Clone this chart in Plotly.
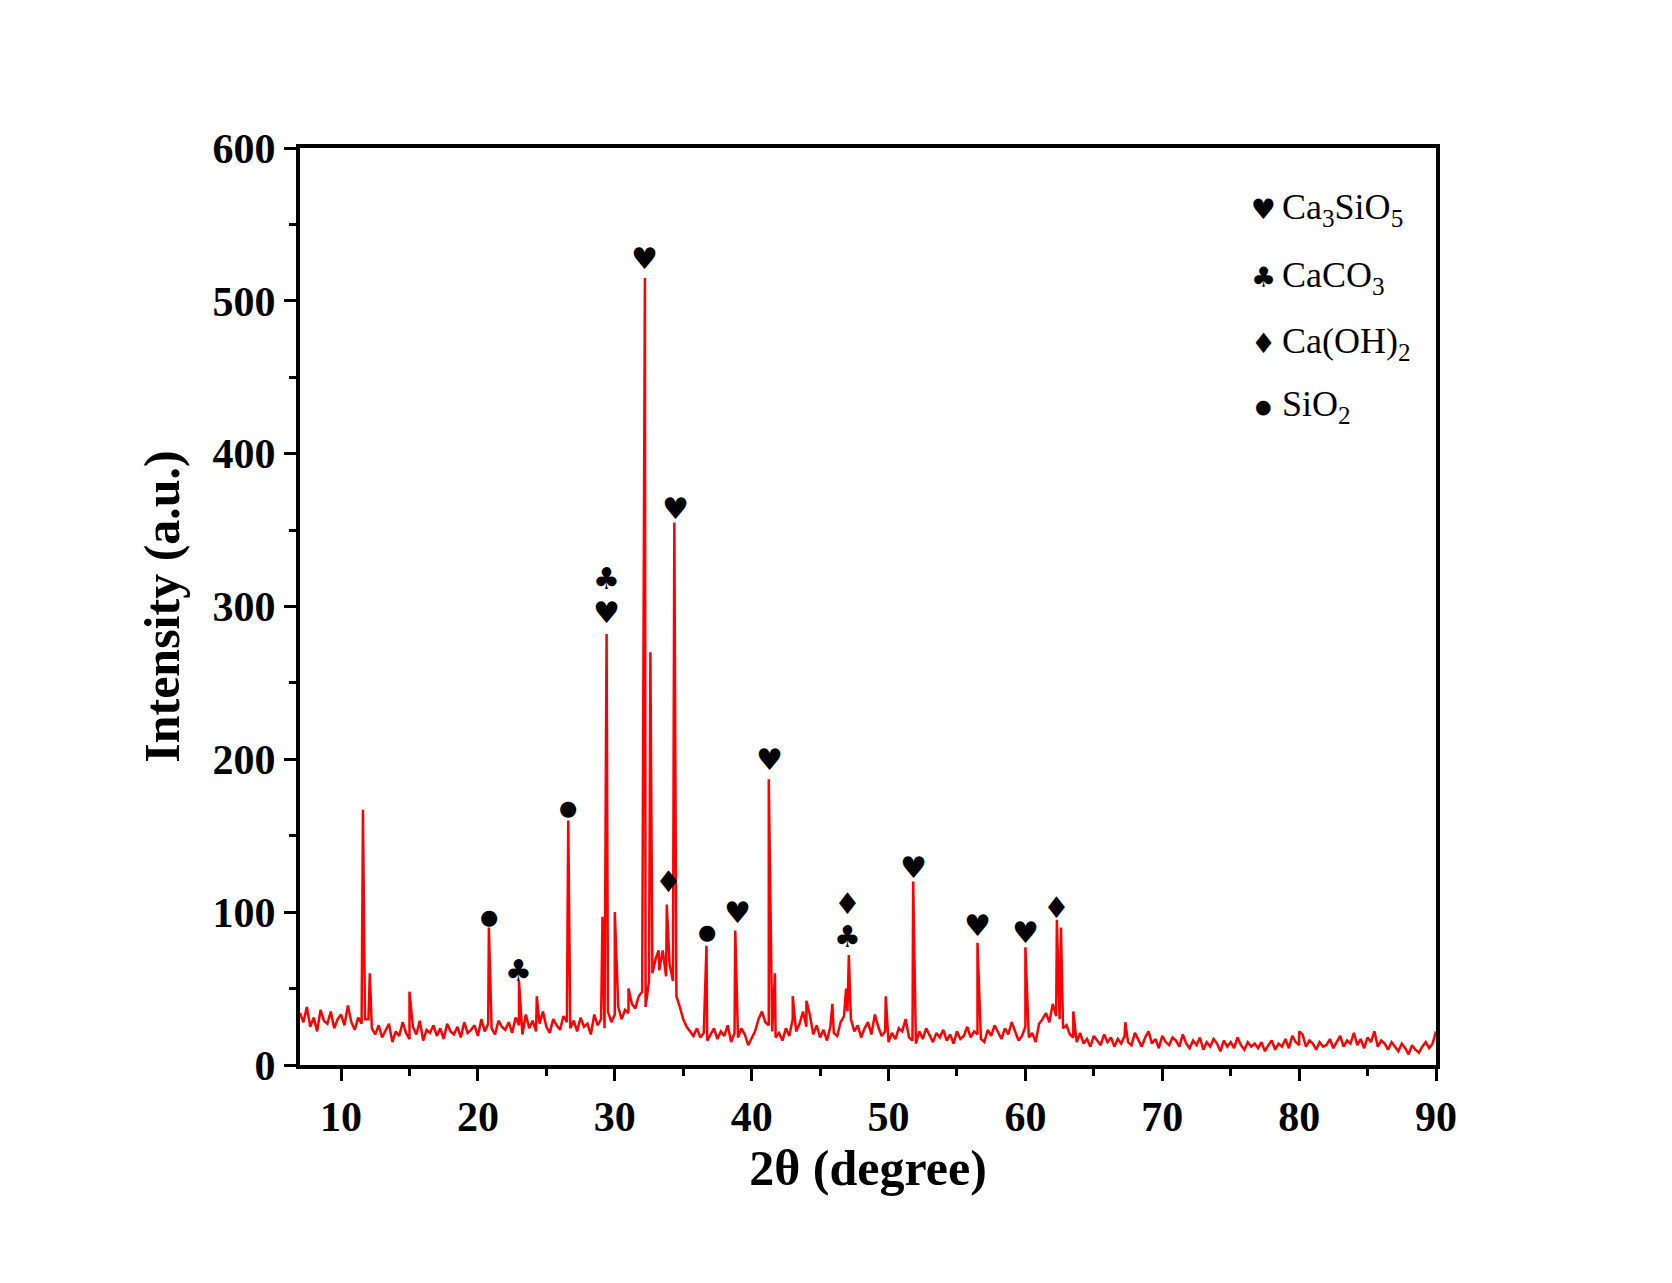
import plotly.graph_objects as go

# baseline intensity sampled every 0.25 deg from 7.0 to 90.0
base_start = 7.0
base_step = 0.25
base_counts = [
    34, 28, 38, 25, 31, 22, 36, 29, 27, 35, 24, 30, 33, 26, 39, 28, 23, 31, 27, 30,
    30, 24, 20, 26, 18, 23, 27, 15, 22, 19, 28, 21, 17, 25, 20, 29, 16, 23, 21, 26,
    19, 24, 17, 27, 22, 20, 25, 18, 28, 21, 23, 26, 19, 30, 22, 27, 24, 20, 29, 25,
    23, 28, 21, 31, 26, 20, 33, 24, 29, 22, 27, 35, 25, 21, 30, 26, 23, 32, 28, 24,
    29, 22, 31, 25, 27, 20, 33, 26, 30, 24, 35, 28, 33, 38, 30, 36, 34, 40, 37, 45,
    48, 38, 55, 60, 70, 62, 75, 58, 66, 55, 45, 38, 30, 25, 22, 19, 24, 18, 21, 16,
    20, 24, 17, 22, 19, 26, 15, 21, 18, 24, 20, 13, 17, 22, 30, 35, 28, 26, 22, 18,
    21, 16, 24, 19, 30, 22, 27, 35, 25, 33, 20, 26, 18, 23, 16, 25, 21, 19, 28, 32,
    35, 30, 22, 26, 18, 24, 28, 20, 33, 25, 19, 22, 15, 21, 17, 24, 22, 30, 18, 16,
    14, 22, 17, 24, 19, 15, 21, 18, 23, 16, 20, 14, 22, 17, 19, 25, 18, 22, 20, 17,
    15, 23, 19, 26, 21, 17, 24, 20, 28, 22, 16, 19, 25, 18, 21, 15, 27, 30, 34, 28,
    40, 32, 30, 24, 26, 20, 18, 15, 21, 14, 17, 12, 19, 16, 13, 20, 15, 18, 12, 17,
    14, 19, 15, 13, 21, 16, 12, 18, 22, 14, 17, 11, 19, 15, 13, 18, 16, 12, 20, 14,
    11, 16, 13, 18, 10, 15, 12, 17, 14, 9, 16, 12, 15, 11, 18, 13, 10, 15, 12, 14,
    11, 15, 9, 13, 16, 10, 14, 12, 17, 11, 19, 15, 13, 20, 12, 16, 14, 10, 15, 12,
    13, 17, 11, 15, 19, 12, 16, 14, 21, 13, 17, 11, 18, 15, 22, 12, 16, 14, 10, 15,
    12, 9, 14, 11, 7, 13, 10, 8, 12, 15, 11, 14, 22,
]

# diffraction peaks: position (deg) and intensity
peak_pos = [11.6, 12.1, 15.0, 20.8, 23.0, 24.3, 26.6, 29.1, 29.4, 30.0, 31.0,
            32.2, 32.6, 33.2, 33.8, 34.35, 36.7, 38.8, 41.25, 41.7, 43.0, 44.0,
            45.9, 46.9, 47.1, 49.8, 51.8, 56.5, 60.0, 62.3, 62.6, 63.5, 67.3, 80.0]
peak_int = [167, 60, 48, 90, 55, 45, 160, 97, 282, 100, 50,
            515, 270, 75, 105, 355, 78, 88, 187, 60, 45, 42,
            40, 50, 72, 45, 120, 80, 77, 95, 90, 35, 28, 22]

# phase markers: glyph, position, height
mark_sym = ['♥', '♥', '♥', '♣', '♥', '♥', '♥', '♥', '♥', '♦',
            '●', '♣', '●', '♦', '●', '♦', '♣']
mark_x = [32.2, 34.45, 29.4, 29.4, 41.3, 39.0, 51.8, 56.5, 60.0, 62.3,
          20.8, 23.0, 26.6, 33.9, 36.7, 47.0, 47.0]
mark_y = [528, 364, 296, 318, 200, 100, 129, 91, 87, 103,
          97, 62, 168, 120, 87, 106, 84]

legend_sym = ['♥', '♣', '♦', '●']
legend_txt = ['Ca<sub>3</sub>SiO<sub>5</sub>', 'CaCO<sub>3</sub>',
              'Ca(OH)<sub>2</sub>', 'SiO<sub>2</sub>']
legend_y = [560, 515, 472, 431]

pts = [(base_start + i * base_step, v) for i, v in enumerate(base_counts)]
pts += list(zip(peak_pos, peak_int))
pts.sort()
xs = [p[0] for p in pts]
ys = [p[1] for p in pts]

fig = go.Figure()
fig.add_trace(go.Scatter(x=xs, y=ys, mode='lines',
                         line=dict(color='#ff0000', width=2.5), showlegend=False))

serif = 'Liberation Serif'
for s, x, y in zip(mark_sym, mark_x, mark_y):
    fig.add_annotation(x=x, y=y, text=s, showarrow=False,
                       font=dict(family='DejaVu Sans', size=21 if s == '●' else 30,
                                 color='black'))

for s, t, y in zip(legend_sym, legend_txt, legend_y):
    fig.add_annotation(x=77.4, y=y, text=s, showarrow=False,
                       font=dict(family='DejaVu Sans', size=19 if s == '●' else 28,
                                 color='black'))
    fig.add_annotation(x=78.6, y=y, text=t, showarrow=False, xanchor='left',
                       font=dict(family=serif, size=36, color='black'))

axis = dict(showline=True, linewidth=4, linecolor='black', mirror=True,
            ticks='outside', tickwidth=3, ticklen=12, tickcolor='black',
            showgrid=False, zeroline=False,
            tickfont=dict(family=serif, size=42, color='black', weight='bold'),
            minor=dict(ticks='outside', ticklen=7, tickwidth=3, tickcolor='black'))

fig.update_xaxes(axis, range=[7, 90], tickvals=[10, 20, 30, 40, 50, 60, 70, 80, 90],
                 minor_dtick=5, minor_tick0=0,
                 title=dict(text='2θ (degree)', standoff=12,
                            font=dict(family=serif, size=50, color='black', weight='bold')))
fig.update_yaxes(axis, range=[0, 600], dtick=100, minor_dtick=50,
                 title=dict(text='Intensity (a.u.)', standoff=18,
                            font=dict(family=serif, size=50, color='black', weight='bold')))

fig.update_layout(width=1672, height=1283, paper_bgcolor='white', plot_bgcolor='white',
                  margin=dict(l=292, r=244, t=140, b=226))
fig.write_html("out.html")
